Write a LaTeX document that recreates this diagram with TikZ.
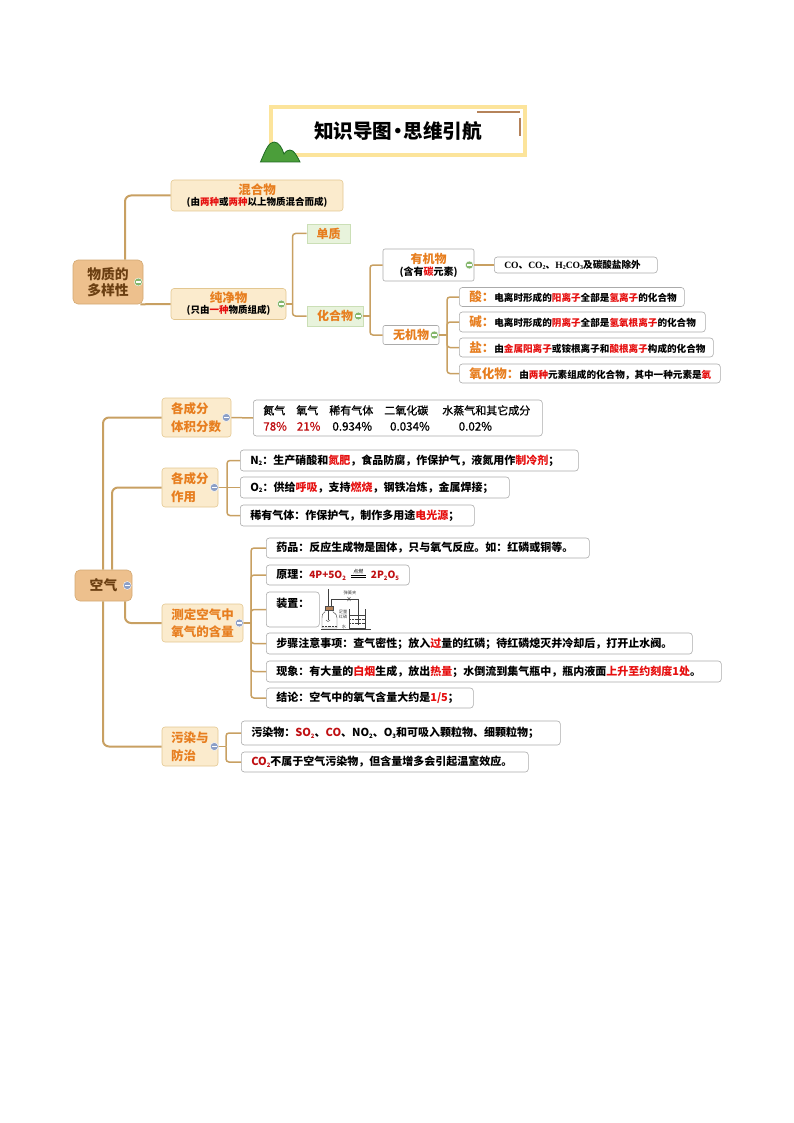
\documentclass[tikz,border=0pt]{standalone}
\usepackage{fontspec}
\setmainfont{Noto Sans CJK SC}
\newfontfamily\latinserif{Liberation Serif}
\newfontfamily\medfont[FakeBold=0.8]{Noto Sans CJK SC}
\usetikzlibrary{positioning}

\definecolor{titleyellow}{HTML}{FCE49B}
\definecolor{titlebrown}{HTML}{B5835A}
\definecolor{hillgreen}{HTML}{4B9E3A}
\definecolor{hilldark}{HTML}{1E6A22}
\definecolor{trunkbrown}{HTML}{C8A062}
\definecolor{rootfill}{HTML}{EDC08D}
\definecolor{rootline}{HTML}{D3A872}
\definecolor{rootword}{HTML}{6B3F12}
\definecolor{catfill}{HTML}{FBEBCD}
\definecolor{catline}{HTML}{E3C791}
\definecolor{catword}{HTML}{E77E1F}
\definecolor{greenfill}{HTML}{E8F3DC}
\definecolor{greenline}{HTML}{CBDFB6}
\definecolor{leafline}{HTML}{ABABAB}
\definecolor{keyred}{HTML}{E60F0F}
\definecolor{deepred}{HTML}{C00F12}
\definecolor{foldgreen}{HTML}{84B66B}
\definecolor{foldblue}{HTML}{8C9FC6}

\newcommand{\rd}[1]{\textcolor{keyred}{#1}}
\newcommand{\dr}[1]{\textcolor{deepred}{#1}}
\newcommand{\og}[1]{\textcolor{catword}{\fontsize{12.5}{14}\bfseries\selectfont #1}}
\newcommand{\lw}[1]{\raisebox{-1.5pt}{\fontsize{6}{6}\selectfont #1}}
\newcommand{\burnsign}{\makebox[15pt][c]{\smash{\raisebox{1.5pt}{\rule{15pt}{.4pt}}\llap{\raisebox{3.5pt}{\rule{15pt}{.4pt}}}\llap{\makebox[15pt][c]{\raisebox{5.5pt}{\fontsize{5}{5}\selectfont\mdseries 点燃}}}}}}

\begin{document}
\begin{tikzpicture}[x=1pt,y=-1pt]

\tikzstyle{rootbox}=[draw=rootline,line width=.6pt,fill=rootfill,rounded corners=5pt,align=center,text=rootword,inner sep=0pt,font=\fontsize{13.8}{16}\selectfont\bfseries]
\tikzstyle{catbox}=[draw=catline,line width=.6pt,fill=catfill,rounded corners=3pt,align=center,text=catword,inner sep=0pt,font=\fontsize{12.5}{17}\selectfont\bfseries]
\tikzstyle{catleft}=[catbox,align=left,inner xsep=9pt]
\tikzstyle{greenbox}=[draw=greenline,line width=.6pt,fill=greenfill,align=center,text=catword,inner sep=0pt,font=\fontsize{12}{14}\selectfont\bfseries]
\tikzstyle{graybox}=[draw=leafline,line width=.6pt,fill=white,rounded corners=2pt,align=center,inner sep=0pt,font=\fontsize{12}{14}\selectfont\bfseries]
\tikzstyle{leaf}=[draw=leafline,line width=.6pt,fill=white,rounded corners=3pt,anchor=west,align=left,inner xsep=10pt,inner ysep=0pt,font=\fontsize{11}{14}\selectfont\bfseries]
\tikzstyle{smallleaf}=[leaf,font=\fontsize{9.6}{12}\selectfont\bfseries]
\tikzstyle{trunk}=[draw=trunkbrown,line width=2pt,rounded corners=6pt]
\tikzstyle{branch}=[draw=trunkbrown,line width=1.5pt,rounded corners=3pt]
\tikzstyle{fold}=[circle,draw=white,line width=.4pt,minimum size=8pt,inner sep=0pt,path picture={\draw[white,line width=1.2pt] ([xshift=-2.2pt]path picture bounding box.center) -- ([xshift=2.2pt]path picture bounding box.center);}]
\tikzstyle{foldg}=[fold,fill=foldgreen]
\tikzstyle{foldb}=[fold,fill=foldblue]
\tikzstyle{part}=[draw=black!75,line width=.4pt]
\tikzstyle{tiny}=[inner sep=0pt,text=black!75,font=\fontsize{4.2}{4.6}\selectfont]

\useasboundingbox (0,0) rectangle (794,1123);

%title
\node[draw=titleyellow,line width=4pt,minimum width=254pt,minimum height=48pt,inner sep=0pt,font=\fontsize{19.6}{24}\selectfont\bfseries] (title) at (398,131) {知识导图\hspace{-4.3pt}•\hspace{-4.3pt}思维引航};
\draw[titlebrown,line width=1.5pt] (477,112) -- (520,112);
\draw[titlebrown,line width=2pt] (519.5,118) -- (519.5,136);
\filldraw[fill=hillgreen,draw=hilldark,line width=.8pt] (260.5,162) .. controls (266,149) and (269,142) .. (274,142) .. controls (279,142) and (282,148) .. (284,154) .. controls (286,151) and (288,150) .. (290,150) .. controls (294,150) and (297,156) .. (300,162) -- cycle;

%first map
\node[rootbox,minimum width=70pt,minimum height=44pt] (wuzhi) at (108,282) {物质的\\多样性};
\node[catbox,minimum width=172pt,minimum height=31pt] (hunhe) at (257,195.5) {混合物\\[-6pt]\textcolor{black}{\fontsize{9.5}{11}\selectfont (由\rd{两种}或\rd{两种}以上物质混合而成)}};
\node[catbox,minimum width=115pt,minimum height=31pt] (chun) at (228.5,304) {纯净物\\[-6pt]\textcolor{black}{\fontsize{9.5}{11}\selectfont (只由\rd{一种}物质组成)}};
\node[greenbox,minimum width=43pt,minimum height=19pt] (danzhi) at (328.5,233.5) {单质};
\node[greenbox,minimum width=56pt,minimum height=20pt] (huahe) at (335,316) {化合物};
\node[graybox,minimum width=91pt,minimum height=32pt] (youji) at (428.5,265) {\textcolor{catword}{有机物}\\[-2pt]{\fontsize{10}{12}\selectfont (含有\rd{碳}元素)}};
\node[graybox,minimum width=56pt,minimum height=19pt] (wuji) at (411,335) {\textcolor{catword}{无机物}};
\node[smallleaf,text width=143pt,minimum height=16pt] (chuwai) at (494,265) {{\latinserif CO}、{\latinserif CO\lw{2}}、{\latinserif H\lw{2}CO\lw{3}}及碳酸盐除外};
\node[smallleaf,text width=205pt,minimum height=19pt] (suan) at (459,297) {\og{酸：}电离时形成的\rd{阳离子}全部是\rd{氢离子}的化合物};
\node[smallleaf,text width=226pt,minimum height=20pt] (jian) at (459,322) {\og{碱：}电离时形成的\rd{阴离子}全部是\rd{氢氧根离子}的化合物};
\node[smallleaf,text width=234pt,minimum height=19pt] (yan) at (459,347.5) {\og{盐：}由\rd{金属阳离子}或铵根离子和\rd{酸根离子}构成的化合物};
\node[smallleaf,text width=241pt,minimum height=19pt] (yanghua) at (459,373.5) {\og{氧化物：}由\rd{两种}元素组成的化合物，其中一种元素是\rd{氧}};

\coordinate (chunj) at (292.5,304);
\coordinate (huahej) at (370,316);
\coordinate (wujij) at (447,335);

\draw[trunk] ([xshift=17pt]wuzhi.north) |- (hunhe.west);
\draw[trunk] ([xshift=-3pt]wuzhi.south east) -- (chun.west);
\draw[branch] (chun.east) -- (chunj);
\draw[branch] (chunj) |- (danzhi.west);
\draw[branch] (chunj) |- (huahe.west);
\draw[branch] (huahe.east) -- (huahej);
\draw[branch] (huahej) |- (youji.west);
\draw[branch] (huahej) |- (wuji.west);
\draw[branch] (youji.east) -- (chuwai.west);
\draw[branch] (wuji.east) -- (wujij);
\draw[branch] (wujij) |- (suan.west);
\draw[branch] (wujij) |- (jian.west);
\draw[branch] (wujij) |- (yan.west);
\draw[branch] (wujij) |- (yanghua.west);

\node[foldg] (f1) at ([xshift=-5pt]wuzhi.east) {};
\node[foldg] (f2) at ([xshift=-5pt]chun.east) {};
\node[foldg] (f3) at ([xshift=-5pt]huahe.east) {};
\node[foldg] (f4) at ([xshift=-5pt]youji.east) {};
\node[foldg] (f5) at ([xshift=-5pt]wuji.east) {};

%second map
\node[rootbox,minimum width=57pt,minimum height=31pt] (kongqi) at (103.5,585.5) {空气};
\node[catleft,text width=51pt,minimum height=39pt] (tiji) at (196.5,417.5) {各成分\\[1pt]体积分数};
\node[catleft,text width=38pt,minimum height=39pt] (zuoyong) at (190,487.5) {各成分\\[1pt]作用};
\node[catbox,minimum width=81pt,minimum height=38pt] (ceding) at (202.5,623) {测定空气中\\氧气的含量};
\node[catleft,text width=38pt,minimum height=39pt] (wuran) at (190,746.5) {污染与\\[1pt]防治};

\node[leaf,text width=269pt,minimum height=36pt,font=\fontsize{11}{16}\medfont] (shuju) at (253,418) {氮气\hspace{11pt}氧气\hspace{11pt}稀有气体\hspace{11pt}二氧化碳\hspace{14pt}水蒸气和其它成分\\{\fontsize{11.6}{16}\selectfont\dr{78\%}\hspace{10pt}\dr{21\%}\hspace{12pt}0.934\%\hspace{18pt}0.034\%\hspace{29pt}0.02\%}};

\node[leaf,text width=318pt,minimum height=21pt] (danqi) at (240,460.5) {N\lw{2}：生产硝酸和\rd{氮肥}，食品防腐，作保护气，液氮用作\rd{制冷剂}；};
\node[leaf,text width=249pt,minimum height=21pt] (yangqi) at (240,487.5) {O\lw{2}：供给\rd{呼吸}，支持\rd{燃烧}，钢铁冶炼，金属焊接；};
\node[leaf,text width=214pt,minimum height=21pt] (xiyou) at (240,515.5) {稀有气体：作保护气，制作多用途\rd{电光源}；};

\node[leaf,text width=303pt,minimum height=20pt] (yaopin) at (266,548) {药品：反应生成物是固体，只与氧气反应。如：红磷或铜等。};
\node[leaf,text width=123pt,minimum height=20pt] (yuanli) at (266,575) {\mbox{原理：{\fontsize{10}{14}\selectfont\dr{4P+5O\lw{2}}\hspace{5pt}\burnsign\hspace{5pt}\dr{2P\lw{2}O\lw{5}}}}};
\node[leaf,text width=33pt,minimum height=35pt] (zhuangzhi) at (266,609.5) {\smash{\raisebox{2.5pt}{装置：}}};
\node[leaf,text width=406pt,minimum height=21pt] (buzhou) at (266,643.5) {步骤注意事项：查气密性；放入\rd{过}量的红磷；待红磷熄灭并冷却后，打开止水阀。};
\node[leaf,text width=435pt,minimum height=21pt] (xianxiang) at (266,671.5) {现象：有大量的\rd{白烟}生成，放出\rd{热量}；水倒流到集气瓶中，瓶内液面\rd{上升至约刻度1处}。};
\node[leaf,text width=187pt,minimum height=20pt] (jielun) at (266,698) {结论：空气中的氧气含量大约是\rd{1/5}；};

\node[leaf,text width=299pt,minimum height=24pt] (wuranwu) at (241,733) {污染物：\dr{SO\lw{2}}、\dr{CO}、NO\lw{2}、O\lw{3}和可吸入颗粒物、细颗粒物；};
\node[leaf,text width=267pt,minimum height=20pt] (eryang) at (241,762) {\dr{CO\lw{2}}不属于空气污染物，但含量增多会引起温室效应。};

\coordinate (zuoyongj) at (227,487.5);
\coordinate (cedingj) at (251,623);
\coordinate (wuranj) at (226,746.5);

\draw[trunk] ([xshift=-.5pt]kongqi.north) |- (tiji.west);
\draw[trunk] ([xshift=8.5pt]kongqi.north) |- (zuoyong.west);
\draw[trunk] ([xshift=21.5pt]kongqi.south) |- (ceding.west);
\draw[trunk] ([xshift=-.5pt]kongqi.south) |- (wuran.west);
\draw[branch] (tiji.east) -- (shuju.west);
\draw[branch] (zuoyong.east) -- (zuoyongj);
\draw[branch] (zuoyongj) |- (danqi.west);
\draw[branch] (zuoyongj) -- (yangqi.west);
\draw[branch] (zuoyongj) |- (xiyou.west);
\draw[branch] (ceding.east) -- (cedingj);
\draw[branch] (cedingj) |- (yaopin.west);
\draw[branch] (cedingj) |- (yuanli.west);
\draw[branch] (cedingj) |- (zhuangzhi.west);
\draw[branch] (cedingj) |- (buzhou.west);
\draw[branch] (cedingj) |- (xianxiang.west);
\draw[branch] (cedingj) |- (jielun.west);
\draw[branch] (wuran.east) -- (wuranj);
\draw[branch] (wuranj) |- (wuranwu.west);
\draw[branch] (wuranj) |- (eryang.west);

\node[foldb] (f6) at ([xshift=-5pt]kongqi.east) {};
\node[foldb] (f7) at ([xshift=-5pt]tiji.east) {};
\node[foldb] (f8) at ([xshift=-4pt]zuoyong.east) {};
\node[foldb] (f9) at ([xshift=-4pt]ceding.east) {};
\node[foldb] (f10) at ([xshift=-4pt]wuran.east) {};

%apparatus
\draw[part] (321,629.5) -- (371,629.5);
\draw[part] (328,589) -- (328,606);
\draw[part,line width=.8pt] (331,606) -- (331,599) -- (358,599) -- (358,625);
\filldraw[fill=titlebrown,draw=black!70,line width=.3pt] (325,606) rectangle (333,610);
\draw[part] (325,610) -- (325,612) .. controls (322,614) and (322,615) .. (322,618) -- (322,628) -- (337,628) -- (337,618) .. controls (337,615) and (336,614) .. (333,612) -- (333,610);
\draw[part] (328,610) -- (328,620);
\draw[part] (326,620) .. controls (327,622) and (329,622) .. (330,620);
\draw[part,densely dotted] (322,626) -- (337,626);
\draw[part] (349,609) -- (349,628) -- (365,628) -- (365,609);
\draw[part] (349,615) -- (365,615);
\draw[part,densely dotted] (349,619) -- (365,619);
\draw[part,densely dotted] (349,623) -- (365,623);
\draw[part] (347.5,597) -- (350.5,601);
\draw[part] (350.5,597) -- (347.5,601);
\node[tiny] (tanhuang) at (350,592.5) {弹簧夹};
\node[tiny,align=center] (zuliang) at (343,614.5) {足量\\红磷};
\node[tiny] (shui) at (344,627) {水};

\end{tikzpicture}
\end{document}
